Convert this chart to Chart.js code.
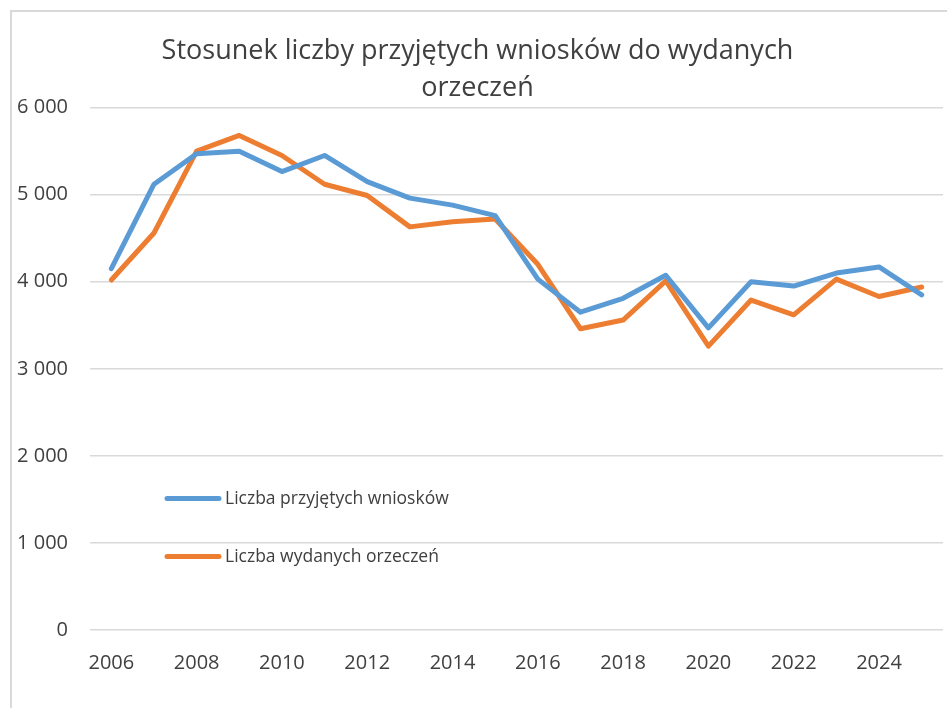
<!DOCTYPE html>
<html lang="pl">
<head>
  <meta charset="UTF-8" />
  <title>Stosunek liczby przyjętych wniosków do wydanych orzeczeń</title>
  <style>
    html, body { margin: 0; padding: 0; background: #fff; overflow: hidden; }
    body { width: 947px; height: 708px; position: relative; }
    #frame {
      position: absolute; left: 10px; top: 10px; width: 960px; height: 720px;
      border-left: 2px solid #d9d9d9; border-top: 2px solid #d9d9d9;
    }
    #chart-container { position: absolute; left: 12px; top: 12px; width: 946px; height: 700px; }
  </style>
  <script src="https://cdn.jsdelivr.net/npm/chart.js"></script>
</head>
<body>
  <div id="frame"></div>
  <div id="chart-container">
    <canvas id="ratioChart"></canvas>
  </div>

  <script>
    // Data
    const years = ['2006','2007','2008','2009','2010','2011','2012','2013','2014','2015',
                   '2016','2017','2018','2019','2020','2021','2022','2023','2024','2025'];
    const przyjeteWnioski = [4150, 5120, 5470, 5500, 5265, 5450, 5150, 4960, 4880, 4760,
                             4030, 3650, 3810, 4075, 3470, 4000, 3950, 4100, 4170, 3850];
    const wydaneOrzeczenia = [4020, 4560, 5500, 5680, 5450, 5120, 4990, 4630, 4690, 4720,
                              4200, 3460, 3560, 4010, 3260, 3790, 3620, 4030, 3830, 3940];
    const seriesNames = ['Liczba przyjętych wniosków', 'Liczba wydanych orzeczeń'];
    const titleLines = ['Stosunek liczby przyjętych wniosków do wydanych', 'orzeczeń'];

    const FONT = '"Open Sans", "Noto Sans", sans-serif';
    const TEXT = '#404040';

    // Legend drawn inside the plot area, like the original
    const innerLegend = {
      id: 'innerLegend',
      afterDraw(chart) {
        const { ctx, chartArea } = chart;
        const rows = [391, 449];
        ctx.save();
        ctx.font = '17.5px ' + FONT;
        ctx.fillStyle = TEXT;
        ctx.textBaseline = 'middle';
        chart.data.datasets.forEach((ds, i) => {
          const x = chartArea.left + 77;
          const y = chartArea.top + rows[i];
          ctx.strokeStyle = ds.borderColor;
          ctx.lineWidth = 5;
          ctx.lineCap = 'round';
          ctx.beginPath();
          ctx.moveTo(x, y);
          ctx.lineTo(x + 52, y);
          ctx.stroke();
          ctx.fillText(ds.label, x + 58, y);
        });
        ctx.restore();
      }
    };

    const ctx = document.getElementById('ratioChart').getContext('2d');
    new Chart(ctx, {
      type: 'line',
      data: {
        labels: years,
        datasets: [
          {
            label: seriesNames[0],
            data: przyjeteWnioski,
            borderColor: '#5B9BD5',
            backgroundColor: '#5B9BD5',
            borderWidth: 5,
            pointRadius: 0,
            tension: 0,
            borderCapStyle: 'round',
            borderJoinStyle: 'round'
          },
          {
            label: seriesNames[1],
            data: wydaneOrzeczenia,
            borderColor: '#ED7D31',
            backgroundColor: '#ED7D31',
            borderWidth: 5,
            pointRadius: 0,
            tension: 0,
            borderCapStyle: 'round',
            borderJoinStyle: 'round'
          }
        ]
      },
      options: {
        responsive: true,
        maintainAspectRatio: false,
        animation: false,
        layout: { padding: { top: 17, right: 15, bottom: 16, left: 0 } },
        plugins: {
          legend: { display: false },
          tooltip: { enabled: false },
          title: {
            display: true,
            text: titleLines,
            color: TEXT,
            font: { family: FONT, size: 27, weight: 'normal', lineHeight: 1.4 },
            padding: { top: 3, bottom: 0 }
          }
        },
        scales: {
          x: {
            offset: true,
            grid: { display: false, drawTicks: false },
            border: { display: false },
            ticks: {
              autoSkip: false,
              maxRotation: 0,
              padding: 21,
              color: TEXT,
              font: { family: FONT, size: 20 },
              callback: function (value, index) {
                return index % 2 === 0 ? this.getLabelForValue(value) : '';
              }
            }
          },
          y: {
            min: 0,
            max: 6000,
            grid: { color: '#d9d9d9', lineWidth: 1.5, drawTicks: false },
            border: { display: false },
            afterFit: scale => { scale.width = 78; },
            ticks: {
              stepSize: 1000,
              padding: 22,
              color: TEXT,
              font: { family: FONT, size: 20 },
              callback: v => String(v).replace(/^(\d)(\d{3})$/, '$1 $2')
            }
          }
        }
      },
      plugins: [innerLegend]
    });
  </script>
</body>
</html>
